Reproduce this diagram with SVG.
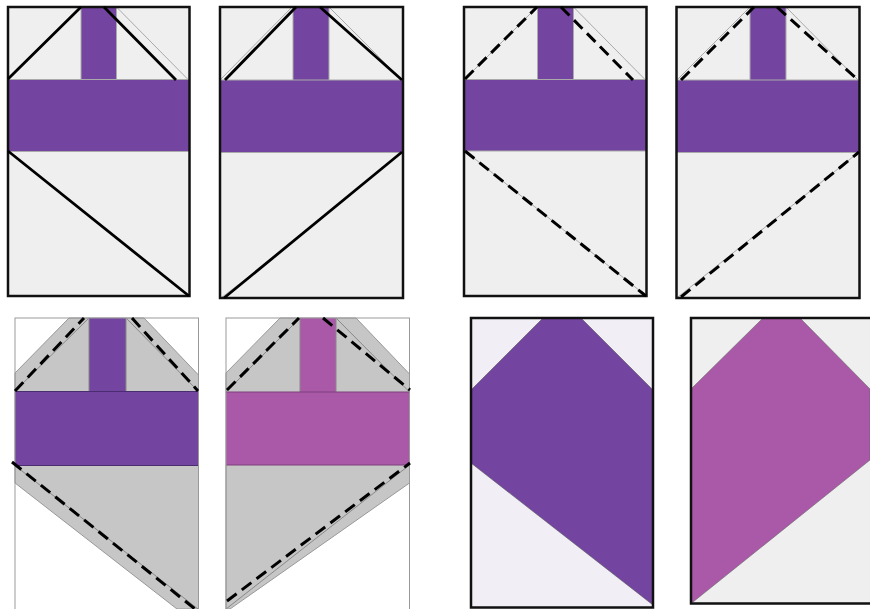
<svg xmlns="http://www.w3.org/2000/svg" width="870" height="609" viewBox="0 0 870 609">
<style>
.bg{fill:#efefef}
.fr{fill:none;stroke:#111;stroke-width:2.500}
.fr5{fill:none;stroke:#999;stroke-width:1}
.p{fill:#7345a0}
.m{fill:#aa58a8}
.ed{fill:none;stroke:#888;stroke-width:1}
.lt{fill:none;stroke:#aaa;stroke-width:1}
.thin{fill:none;stroke:#aaa;stroke-width:1}
.s{fill:none;stroke:#000;stroke-width:2.800}
.d{fill:none;stroke:#000;stroke-width:3;stroke-dasharray:12 6.500}
.g{fill:#c6c6c6;stroke:#999;stroke-width:1}
</style>
<g id="panel-1">
<rect class="bg" x="8" y="7" width="181.500" height="289"/>
<rect class="p" x="81" y="7" width="35.500" height="73"/>
<rect class="p" x="8" y="79.500" width="181.500" height="72"/>
<path class="thin" d="M116.500 7L188 79.500"/>
<path class="lt" d="M81 7V79.500M116.500 7V79.500M8 79.500H189M8 151.500H189"/>
<rect class="fr" x="8" y="7" width="181.500" height="289"/>
</g>
<g id="panel-2">
<rect class="bg" x="220" y="7" width="183" height="291"/>
<rect class="p" x="293" y="7" width="36" height="73"/>
<rect class="p" x="220" y="80" width="183" height="72.500"/>
<path class="thin" d="M221 79L292 7M329 7L402 80M221 298L290 245"/>
<path class="lt" d="M293 7V80M329 7V80M220 80H403M220 152.500H403"/>
<rect class="fr" x="220" y="7" width="183" height="291"/>
</g>
<g id="panel-3">
<rect class="bg" x="464" y="7" width="182.500" height="289"/>
<rect class="p" x="537.500" y="7" width="36" height="73"/>
<rect class="p" x="464" y="79.500" width="182.500" height="71.500"/>
<path class="thin" d="M465 79L537 7M573.500 7L645 79.500M465 151L645 295"/>
<path class="lt" d="M537.500 7V80M573.500 7V80M464 79.500H646M464 151H646"/>
<rect class="fr" x="464" y="7" width="182.500" height="289"/>
</g>
<g id="panel-4">
<rect class="bg" x="676.500" y="7" width="183" height="291"/>
<rect class="p" x="750" y="7" width="36" height="73"/>
<rect class="p" x="676.500" y="80" width="183" height="72.500"/>
<path class="thin" d="M678 79L750 7M786 7L858 80M678 297L859 152"/>
<path class="lt" d="M750 7V80M786 7V80M677 80H859M677 152.500H859"/>
<rect class="fr" x="676.500" y="7" width="183" height="291"/>
</g>
<g id="panel-5">
<path class="g" d="M15 373L69 318H144L198.500 375V609H177L15 483Z"/>
<rect class="p" x="89" y="318" width="37" height="74"/>
<rect class="p" x="15" y="391.500" width="183.500" height="74"/>
<path class="ed" d="M15 391L89 318M126 318L198 391M15 465.500L198 609M89 318V391.500M126 318V391.500"/>
<path fill="none" stroke="#4a2c70" stroke-width="1" d="M15 391.500H198.500M15 465.500H198.500"/>
<rect class="fr5" x="15" y="318" width="183.500" height="292"/>
</g>
<g id="panel-6">
<path class="g" d="M226 373L280 318H356L409.500 374V483L230 609H226Z"/>
<rect class="m" x="300" y="318" width="36" height="74"/>
<rect class="m" x="226" y="392" width="183.500" height="73"/>
<path class="ed" d="M226 392L300 318M336 318L409.500 392M226 609L409.500 465M300 318V392M336 318V392"/>
<path fill="none" stroke="#7d3f7c" stroke-width="1" d="M226 392H409.500M226 465H409.500"/>
<rect class="fr5" x="226" y="318" width="183.500" height="292"/>
</g>
<g id="panel-7">
<rect x="471" y="318" width="182" height="289.500" fill="#f1eef6"/>
<path class="p" stroke="#555" stroke-width="0.600" d="M471 390L543 318H581L653 390V605L471 463Z"/>
<rect class="fr" x="471" y="318" width="182" height="289.500"/>
</g>
<g id="panel-8">
<rect class="bg" x="691" y="318" width="179" height="285.500"/>
<path class="m" stroke="#666" stroke-width="0.600" d="M691 389L763 318H800L870 389V460L693 602H691Z"/>
<path class="fr" d="M870 318H691V603.500H870"/>
</g>
<g id="connectors">
<path class="s" d="M8 79L81 7M104 7L176 80M8 151L189 296"/>
<path class="s" d="M225 80L296 7M320 7L402 80M224 298L402 152"/>
<path class="d" d="M465 79L537 7M561 7L633 80M465 151L646 296"/>
<path class="d" d="M681 80L754 7M777 7L858 80M681 297L859 152"/>
<path class="d" d="M15 391L84 318M132 318L198 391M12 462L195 609"/>
<path class="d" d="M227 390L299 318M323 318L410 390M227 601L410 463"/>
</g>
</svg>
